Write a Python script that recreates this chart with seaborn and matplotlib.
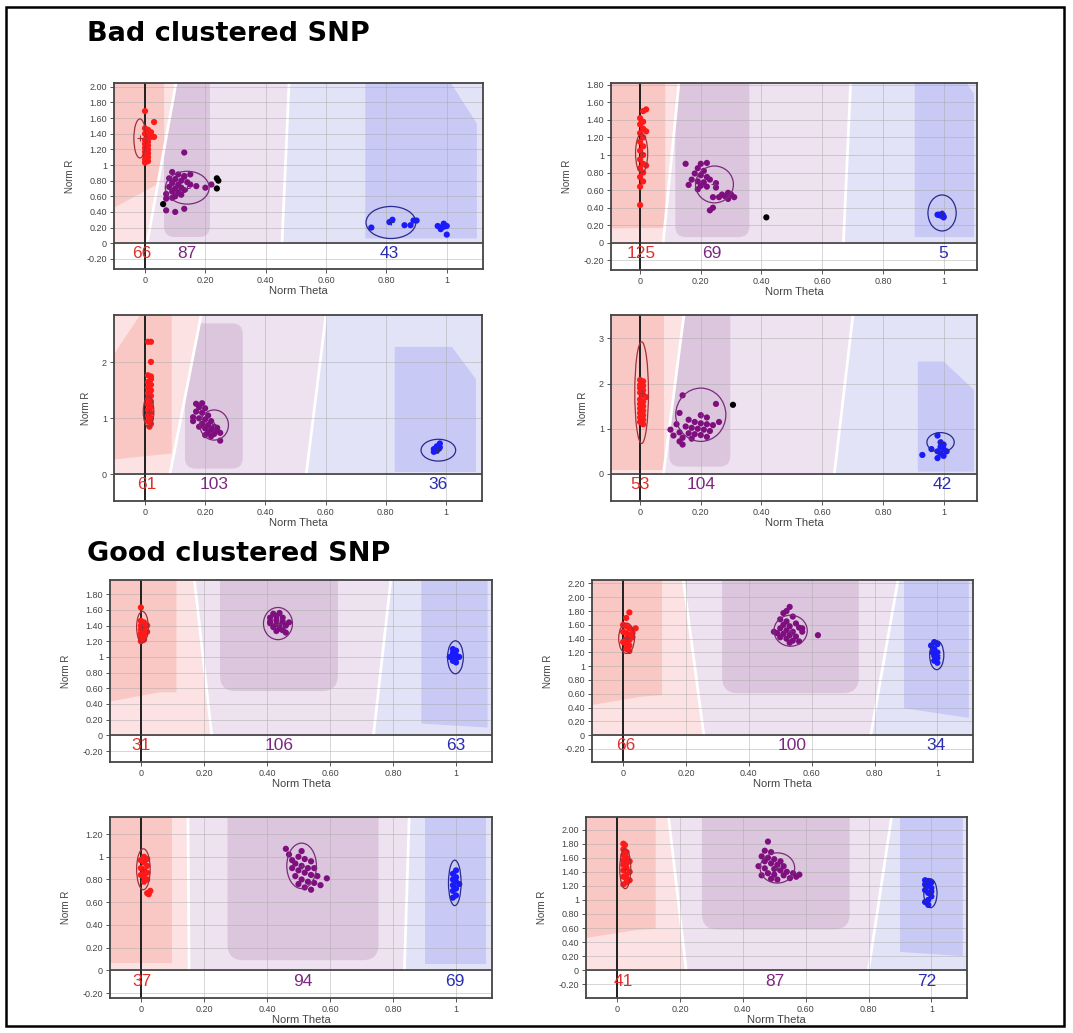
import numpy as np
import pandas as pd
import matplotlib
matplotlib.use("Agg")
import matplotlib.pyplot as plt
from matplotlib.patches import Ellipse, Polygon, FancyBboxPatch, Rectangle
import seaborn as sns

# ---- (Norm Theta, Norm R) per genotype call ----
# panel 1 - bad
p1_aa = [(0.0, 1.69), (0.03, 1.55), (0.0, 1.47), (0.01, 1.45), (0.02, 1.42), (0.0, 1.40), (0.01, 1.37),
         (0.02, 1.36), (0.03, 1.36), (0.0, 1.32), (0.01, 1.30), (0.0, 1.27), (0.01, 1.25), (0.0, 1.22),
         (0.01, 1.20), (0.0, 1.17), (0.01, 1.15), (0.0, 1.12), (0.01, 1.10), (0.0, 1.07), (0.01, 1.05), (0.0, 1.03)]
p1_ab = [(0.13, 1.16), (0.09, 0.91), (0.11, 0.88), (0.13, 0.86), (0.15, 0.88), (0.08, 0.83), (0.10, 0.82),
         (0.12, 0.80), (0.14, 0.78), (0.09, 0.77), (0.11, 0.75), (0.08, 0.72), (0.10, 0.70), (0.12, 0.71),
         (0.13, 0.68), (0.09, 0.66), (0.11, 0.65), (0.07, 0.63), (0.10, 0.60), (0.12, 0.62), (0.07, 0.57),
         (0.09, 0.58), (0.15, 0.75), (0.20, 0.71), (0.22, 0.75), (0.07, 0.42), (0.10, 0.40), (0.13, 0.44),
         (0.17, 0.73), (0.13, 0.85)]
p1_bb = [(0.75, 0.20), (0.82, 0.30), (0.81, 0.27), (0.86, 0.23), (0.88, 0.23), (0.89, 0.29), (0.90, 0.29),
         (0.97, 0.22), (0.98, 0.20), (0.99, 0.25), (1.0, 0.22), (0.98, 0.18), (0.99, 0.21), (1.0, 0.11)]
p1_nc = [(0.238, 0.83), (0.243, 0.80), (0.238, 0.70), (0.06, 0.50)]
p1_counts = [66, 87, 43]
p1_count_x = [-0.01, 0.14, 0.81]
p1_ell = [(-0.017, 1.34, 0.04, 0.50), (0.14, 0.71, 0.145, 0.42), (0.815, 0.265, 0.165, 0.41)]

# panel 2 - bad
p2_aa = [(0.0, 0.43), (0.0, 0.64), (0.01, 0.70), (0.0, 0.75), (0.01, 0.80), (0.0, 0.85), (0.01, 0.90),
         (0.0, 0.95), (0.01, 1.0), (0.0, 1.05), (0.01, 1.10), (0.0, 1.15), (0.01, 1.20), (0.0, 1.25),
         (0.01, 1.30), (0.0, 1.35), (0.01, 1.38), (0.0, 1.42), (0.02, 1.52), (0.01, 1.50), (0.02, 1.27), (0.02, 0.88)]
p2_ab = [(0.15, 0.90), (0.20, 0.90), (0.22, 0.91), (0.19, 0.85), (0.21, 0.82), (0.18, 0.79), (0.20, 0.77),
         (0.22, 0.75), (0.17, 0.72), (0.19, 0.70), (0.21, 0.69), (0.23, 0.72), (0.25, 0.68), (0.16, 0.66),
         (0.20, 0.65), (0.22, 0.64), (0.19, 0.61), (0.27, 0.55), (0.28, 0.53), (0.29, 0.57), (0.30, 0.55),
         (0.31, 0.52), (0.26, 0.52), (0.24, 0.52), (0.29, 0.50), (0.24, 0.40), (0.23, 0.37), (0.25, 0.63)]
p2_bb = [(0.98, 0.32), (0.99, 0.31), (1.0, 0.30), (0.995, 0.33), (1.0, 0.29), (0.985, 0.32)]
p2_nc = [(0.416, 0.29)]
p2_counts = [125, 69, 5]
p2_count_x = [0.005, 0.235, 1.0]
p2_ell = [(0.005, 1.02, 0.04, 0.45), (0.245, 0.665, 0.125, 0.42), (0.995, 0.34, 0.093, 0.41)]

# panel 3 - bad
p3_aa = [(0.01, 2.37), (0.02, 2.37), (0.02, 2.01), (0.01, 1.77), (0.02, 1.75), (0.02, 1.70), (0.01, 1.65),
         (0.02, 1.60), (0.01, 1.55), (0.02, 1.50), (0.01, 1.45), (0.02, 1.40), (0.01, 1.35), (0.02, 1.30),
         (0.01, 1.25), (0.02, 1.20), (0.01, 1.15), (0.02, 1.10), (0.01, 1.05), (0.02, 1.0), (0.01, 0.95),
         (0.02, 0.90), (0.015, 0.85)]
p3_ab = [(0.17, 1.26), (0.19, 1.27), (0.18, 1.20), (0.20, 1.18), (0.17, 1.12), (0.19, 1.10), (0.21, 1.05),
         (0.16, 1.02), (0.18, 1.0), (0.20, 0.98), (0.22, 0.95), (0.16, 0.95), (0.19, 0.90), (0.21, 0.88),
         (0.23, 0.85), (0.20, 0.82), (0.22, 0.80), (0.24, 0.78), (0.25, 0.74), (0.23, 0.72), (0.21, 0.75),
         (0.20, 0.70), (0.22, 0.68), (0.25, 0.60), (0.24, 0.83), (0.18, 0.85)]
p3_bb = [(0.96, 0.45), (0.97, 0.50), (0.98, 0.55), (0.97, 0.42), (0.98, 0.48), (0.96, 0.40), (0.975, 0.45)]
p3_nc = []
p3_counts = [61, 103, 36]
p3_count_x = [0.006, 0.23, 0.975]
p3_ell = [(0.012, 1.12, 0.035, 0.55), (0.23, 0.88, 0.095, 0.54), (0.975, 0.43, 0.115, 0.39)]

# panel 4 - bad
p4_aa = [(0.0, 2.08), (0.01, 2.05), (0.0, 1.97), (0.01, 1.95), (0.0, 1.90), (0.01, 1.85), (0.0, 1.80),
         (0.01, 1.75), (0.02, 1.70), (0.0, 1.65), (0.01, 1.60), (0.0, 1.55), (0.01, 1.50), (0.0, 1.45),
         (0.01, 1.40), (0.0, 1.35), (0.01, 1.30), (0.0, 1.25), (0.01, 1.20), (0.0, 1.15), (0.01, 1.10)]
p4_ab = [(0.14, 1.74), (0.25, 1.55), (0.13, 1.35), (0.20, 1.30), (0.22, 1.25), (0.16, 1.20), (0.18, 1.15),
         (0.20, 1.12), (0.22, 1.10), (0.24, 1.08), (0.12, 1.10), (0.15, 1.05), (0.17, 1.02), (0.19, 1.0),
         (0.21, 0.98), (0.23, 0.95), (0.10, 0.98), (0.13, 0.92), (0.16, 0.90), (0.18, 0.88), (0.20, 0.86),
         (0.11, 0.85), (0.14, 0.80), (0.17, 0.78), (0.22, 0.82), (0.13, 0.72), (0.14, 0.65), (0.26, 1.15)]
p4_bb = [(0.93, 0.42), (0.96, 0.55), (0.98, 0.85), (0.99, 0.70), (1.0, 0.65), (0.99, 0.60), (1.0, 0.55),
         (0.98, 0.50), (0.99, 0.45), (1.0, 0.40), (0.98, 0.35), (1.01, 0.50)]
p4_nc = [(0.306, 1.53)]
p4_counts = [53, 104, 42]
p4_count_x = [0.0, 0.20, 0.995]
p4_ell = [(0.005, 1.80, 0.045, 2.25), (0.20, 1.31, 0.165, 1.18), (0.99, 0.70, 0.09, 0.43)]

# panel 5 - good
p5_aa = [(0.0, 1.63), (0.0, 1.46), (0.01, 1.44), (0.0, 1.40), (0.01, 1.38), (0.0, 1.35), (0.01, 1.33),
         (0.02, 1.32), (0.0, 1.30), (0.01, 1.28), (0.0, 1.25), (0.01, 1.22), (0.0, 1.20), (0.01, 1.36), (0.02, 1.40)]
p5_ab = [(0.42, 1.55), (0.44, 1.56), (0.43, 1.52), (0.45, 1.50), (0.41, 1.50), (0.43, 1.47), (0.45, 1.45),
         (0.47, 1.44), (0.41, 1.43), (0.43, 1.42), (0.44, 1.40), (0.46, 1.40), (0.42, 1.38), (0.44, 1.36),
         (0.45, 1.34), (0.43, 1.33), (0.46, 1.31), (0.41, 1.45)]
p5_bb = [(0.99, 1.10), (1.0, 1.08), (0.99, 1.05), (1.0, 1.02), (0.99, 1.0), (1.0, 0.98), (0.99, 0.95),
         (1.0, 0.93), (1.01, 1.0), (0.98, 1.0)]
p5_nc = []
p5_counts = [31, 106, 63]
p5_count_x = [0.0, 0.44, 1.0]
p5_ell = [(0.005, 1.38, 0.037, 0.40), (0.435, 1.425, 0.092, 0.41), (0.998, 0.995, 0.05, 0.42)]

# panel 6 - good
p6_aa = [(0.02, 1.78), (0.01, 1.70), (0.0, 1.60), (0.01, 1.58), (0.02, 1.55), (0.04, 1.55), (0.03, 1.52),
         (0.0, 1.50), (0.01, 1.48), (0.02, 1.45), (0.03, 1.42), (0.01, 1.40), (0.02, 1.38), (0.0, 1.35),
         (0.01, 1.32), (0.02, 1.30), (0.01, 1.25), (0.02, 1.22), (0.03, 1.48)]
p6_ab = [(0.53, 1.86), (0.52, 1.80), (0.51, 1.77), (0.54, 1.72), (0.50, 1.68), (0.52, 1.65), (0.55, 1.62),
         (0.51, 1.60), (0.53, 1.58), (0.56, 1.56), (0.50, 1.55), (0.52, 1.52), (0.54, 1.50), (0.57, 1.50),
         (0.48, 1.50), (0.51, 1.47), (0.53, 1.45), (0.55, 1.43), (0.50, 1.42), (0.52, 1.40), (0.54, 1.37),
         (0.56, 1.36), (0.53, 1.34), (0.62, 1.45), (0.49, 1.48), (0.57, 1.55)]
p6_bb = [(0.98, 1.30), (0.99, 1.35), (1.0, 1.32), (0.99, 1.25), (1.0, 1.20), (0.99, 1.15), (1.0, 1.12),
         (0.99, 1.08), (1.0, 1.05), (0.985, 1.20)]
p6_nc = []
p6_counts = [66, 100, 34]
p6_count_x = [0.007, 0.538, 0.995]
p6_ell = [(0.011, 1.405, 0.05, 0.44), (0.533, 1.515, 0.106, 0.45), (0.998, 1.16, 0.045, 0.42)]

# panel 7 - good
p7_aa = [(0.01, 1.0), (0.0, 0.97), (0.01, 0.95), (0.02, 0.92), (0.0, 0.90), (0.01, 0.88), (0.02, 0.86),
         (0.0, 0.84), (0.01, 0.82), (0.02, 0.80), (0.01, 0.78), (0.03, 0.70), (0.02, 0.68), (0.025, 0.67),
         (0.01, 0.85), (0.02, 0.98)]
p7_ab = [(0.46, 1.07), (0.51, 1.05), (0.47, 1.02), (0.50, 1.0), (0.52, 0.98), (0.48, 0.97), (0.54, 0.96),
         (0.49, 0.94), (0.51, 0.92), (0.53, 0.90), (0.55, 0.90), (0.48, 0.90), (0.50, 0.88), (0.52, 0.86),
         (0.54, 0.84), (0.56, 0.83), (0.49, 0.83), (0.51, 0.80), (0.53, 0.78), (0.55, 0.77), (0.59, 0.81),
         (0.57, 0.75), (0.52, 0.73), (0.54, 0.71), (0.50, 0.76)]
p7_bb = [(1.0, 0.88), (0.99, 0.85), (1.0, 0.82), (0.99, 0.80), (1.0, 0.78), (0.99, 0.75), (1.0, 0.72),
         (0.99, 0.70), (1.0, 0.66), (0.99, 0.64), (1.01, 0.76)]
p7_nc = []
p7_counts = [37, 94, 69]
p7_count_x = [0.005, 0.513, 0.995]
p7_ell = [(0.008, 0.89, 0.043, 0.36), (0.51, 0.92, 0.094, 0.40), (0.996, 0.77, 0.04, 0.40)]

# panel 8 - good
p8_aa = [(0.02, 1.80), (0.025, 1.78), (0.02, 1.72), (0.03, 1.68), (0.02, 1.64), (0.03, 1.60), (0.02, 1.56),
         (0.04, 1.55), (0.03, 1.52), (0.02, 1.50), (0.03, 1.46), (0.02, 1.42), (0.04, 1.40), (0.03, 1.36),
         (0.02, 1.33), (0.03, 1.30), (0.04, 1.28), (0.03, 1.25), (0.02, 1.22)]
p8_ab = [(0.48, 1.83), (0.47, 1.70), (0.49, 1.68), (0.46, 1.62), (0.48, 1.60), (0.50, 1.58), (0.52, 1.55),
         (0.47, 1.55), (0.49, 1.52), (0.51, 1.50), (0.53, 1.48), (0.45, 1.48), (0.47, 1.45), (0.50, 1.44),
         (0.52, 1.42), (0.54, 1.40), (0.56, 1.38), (0.48, 1.38), (0.50, 1.36), (0.53, 1.35), (0.57, 1.33),
         (0.58, 1.36), (0.49, 1.30), (0.51, 1.29), (0.55, 1.31), (0.46, 1.35)]
p8_bb = [(0.98, 1.28), (0.99, 1.27), (1.0, 1.25), (0.98, 1.22), (0.99, 1.20), (1.0, 1.17), (0.98, 1.14),
         (0.99, 1.10), (1.0, 1.05), (0.99, 1.0), (0.98, 0.97), (0.99, 0.93), (1.0, 1.12)]
p8_nc = []
p8_counts = [41, 87, 72]
p8_count_x = [0.019, 0.503, 0.986]
p8_ell = [(0.026, 1.445, 0.035, 0.57), (0.51, 1.455, 0.11, 0.43), (0.997, 1.095, 0.042, 0.41)]

# ---- call regions: AA/AB and AB/BB boundaries (theta at top, theta at R=0), shaded boxes ----
p1_zone = dict(b1=(0.126, 0.007), b2=(0.483, 0.454),
               aa=[(-0.2, 0.25), (0.063, 0.80), (0.063, 9), (-0.2, 9)], ab=(0.063, 0.215, 0.08, 9),
               bb=[(0.73, 0.06), (1.10, 0.06), (1.10, 1.53), (1.005, 2.10), (0.73, 2.10)])
p2_zone = dict(b1=(0.142, 0.076), b2=(0.70, 0.67),
               aa=[(-0.2, 0.16), (0.083, 0.17), (0.083, 9), (-0.2, 9)], ab=(0.116, 0.36, 0.065, 9),
               bb=[(0.905, 0.065), (1.10, 0.065), (1.10, 1.70), (1.07, 1.85), (0.905, 1.85)])
p3_zone = dict(b1=(0.205, 0.083), b2=(0.613, 0.536),
               aa=[(-0.2, 0.21), (0.089, 0.37), (0.089, 3.5), (-0.016, 3.5), (-0.016, 2.85), (-0.2, 1.36)],
               ab=(0.133, 0.325, 0.10, 2.70),
               bb=[(0.83, 0.04), (1.10, 0.04), (1.10, 1.70), (1.02, 2.28), (0.83, 2.28)])
p4_zone = dict(b1=(0.154, 0.077), b2=(0.71, 0.64),
               aa=[(-0.2, 0.09), (0.079, 0.09), (0.079, 9), (-0.2, 9)], ab=(0.096, 0.297, 0.16, 9),
               bb=[(0.915, 0.05), (1.10, 0.05), (1.10, 1.86), (1.0, 2.49), (0.915, 2.49)])
p5_zone = dict(b1=(0.156, 0.225), b2=(0.807, 0.738),
               aa=[(-0.2, 0.355), (0.06, 0.55), (0.113, 0.55), (0.113, 9), (-0.2, 9)], ab=(0.251, 0.625, 0.565, 9),
               bb=[(0.89, 0.15), (1.10, 0.10), (1.10, 9), (0.89, 9)])
p6_zone = dict(b1=(0.177, 0.257), b2=(0.894, 0.788),
               aa=[(-0.2, 0.36), (0.06, 0.56), (0.124, 0.58), (0.124, 9), (-0.2, 9)], ab=(0.315, 0.75, 0.61, 9),
               bb=[(0.894, 0.39), (1.10, 0.25), (1.10, 9), (0.894, 9)])
p7_zone = dict(b1=(0.148, 0.153), b2=(0.857, 0.836),
               aa=[(-0.2, 0.065), (0.10, 0.065), (0.10, 9), (-0.2, 9)], ab=(0.275, 0.754, 0.09, 9),
               bb=[(0.90, 0.06), (1.095, 0.06), (1.095, 9), (0.90, 9)])
p8_zone = dict(b1=(0.151, 0.22), b2=(0.89, 0.80),
               aa=[(-0.2, 0.39), (0.06, 0.57), (0.123, 0.59), (0.123, 9), (-0.2, 9)], ab=(0.27, 0.74, 0.58, 9),
               bb=[(0.90, 0.26), (1.10, 0.20), (1.10, 9), (0.90, 9)])

# axis ranges and tick steps
xlims = [(-0.103, 1.12), (-0.096, 1.11), (-0.103, 1.12), (-0.096, 1.11),
         (-0.098, 1.114), (-0.099, 1.113), (-0.098, 1.114), (-0.099, 1.113)]
ylims = [(-0.33, 2.05), (-0.31, 1.82), (-0.48, 2.85), (-0.60, 3.52),
         (-0.34, 1.98), (-0.39, 2.25), (-0.243, 1.35), (-0.395, 2.18)]
ytick_steps = [0.2, 0.2, 1.0, 1.0, 0.2, 0.2, 0.2, 0.2]

panels = [
    (p1_aa, p1_ab, p1_bb, p1_nc, p1_counts, p1_count_x, p1_ell, p1_zone),
    (p2_aa, p2_ab, p2_bb, p2_nc, p2_counts, p2_count_x, p2_ell, p2_zone),
    (p3_aa, p3_ab, p3_bb, p3_nc, p3_counts, p3_count_x, p3_ell, p3_zone),
    (p4_aa, p4_ab, p4_bb, p4_nc, p4_counts, p4_count_x, p4_ell, p4_zone),
    (p5_aa, p5_ab, p5_bb, p5_nc, p5_counts, p5_count_x, p5_ell, p5_zone),
    (p6_aa, p6_ab, p6_bb, p6_nc, p6_counts, p6_count_x, p6_ell, p6_zone),
    (p7_aa, p7_ab, p7_bb, p7_nc, p7_counts, p7_count_x, p7_ell, p7_zone),
    (p8_aa, p8_ab, p8_bb, p8_nc, p8_counts, p8_count_x, p8_ell, p8_zone),
]

# long table for seaborn
rows = []
for i, (aa, ab, bb, nc, *_rest) in enumerate(panels):
    for call, pts in (("AA", aa), ("AB", ab), ("BB", bb), ("NC", nc)):
        for t, r in pts:
            rows.append({"panel": i, "call": call, "theta": t, "R": r})
df = pd.DataFrame(rows)

# styling
sns.set_style("white")
plt.rcParams["font.family"] = ["Liberation Sans", "DejaVu Sans"]

CALL_COLORS = {"AA": "#ff1a1a", "AB": "#7f0f7f", "BB": "#1a1aff", "NC": "#000000"}
ELL_COLORS = ["#a0303a", "#7a2a7a", "#2a2a8c"]
COUNT_COLORS = ["#e0302c", "#7c2880", "#2a2eb0"]
ZONE_COLORS = ["#fce2e2", "#eee1f0", "#e3e3f8"]
BOX_COLORS = ["#fac8c4", "#dcc6de", "#c9c9f5"]

AX_POS = [
    (0.1062, 0.7396, 0.3439, 0.1801),
    (0.5694, 0.7386, 0.3411, 0.1810),
    (0.1062, 0.5150, 0.3430, 0.1801),
    (0.5694, 0.5150, 0.3411, 0.1801),
    (0.1025, 0.2623, 0.3560, 0.1762),
    (0.5517, 0.2623, 0.3550, 0.1762),
    (0.1025, 0.0339, 0.3560, 0.1752),
    (0.5461, 0.0339, 0.3550, 0.1752),
]

W, H = 1073, 1033
fig = plt.figure(figsize=(W / 100, H / 100), dpi=100)


def fmt(v, step):
    # GenomeStudio style: 0 and 1 bare, other values with two decimals
    if step >= 1 or abs(v) < 1e-9 or abs(v - 1) < 1e-9:
        return str(int(round(v)))
    return f"{v:.2f}"


for i, (aa, ab, bb, nc, counts, count_x, ells, zone) in enumerate(panels):
    ax = fig.add_axes(AX_POS[i])
    x0, x1 = xlims[i]
    y0, y1 = ylims[i]
    top = y1 + 0.5
    ax.set_xlim(x0, x1)
    ax.set_ylim(y0, y1)

    b1t, b1b = zone["b1"]
    b2t, b2b = zone["b2"]
    zone_polys = [
        [(x0 - 1, 0), (b1b, 0), (b1t, top), (x0 - 1, top)],
        [(b1b, 0), (b2b, 0), (b2t, top), (b1t, top)],
        [(b2b, 0), (x1 + 1, 0), (x1 + 1, top), (b2t, top)],
    ]
    zpatches = []
    for poly, c in zip(zone_polys, ZONE_COLORS):
        p = Polygon(poly, closed=True, facecolor=c, edgecolor="none", zorder=0.3)
        ax.add_patch(p)
        zpatches.append(p)

    # shaded cluster boxes, clipped to their call region
    asp = ((y1 - y0) / (AX_POS[i][3] * H)) / ((x1 - x0) / (AX_POS[i][2] * W))
    pa = Polygon(zone["aa"], closed=True, facecolor=BOX_COLORS[0], edgecolor="none", zorder=0.6)
    ax.add_patch(pa)
    pa.set_clip_path(zpatches[0])
    l, r, b, t = zone["ab"]
    rad = 0.035 if i < 4 else 0.05
    pb = FancyBboxPatch((l, b), r - l, t - b, boxstyle=f"round,pad=0,rounding_size={rad}",
                        mutation_aspect=asp, facecolor=BOX_COLORS[1], edgecolor="none", zorder=0.6)
    ax.add_patch(pb)
    pb.set_clip_path(zpatches[1])
    pc = Polygon(zone["bb"], closed=True, facecolor=BOX_COLORS[2], edgecolor="none", zorder=0.6)
    ax.add_patch(pc)
    pc.set_clip_path(zpatches[2])

    # white boundaries between call regions
    ax.plot([b1b, b1t], [0, top], color="white", lw=2.0, zorder=1.0)
    ax.plot([b2b, b2t], [0, top], color="white", lw=2.0, zorder=1.0)

    # ticks & grid
    xt = [0, 0.2, 0.4, 0.6, 0.8, 1.0]
    step = ytick_steps[i]
    yt = np.round(np.arange(np.ceil(y0 / step) * step, y1 + 1e-9, step), 2)
    ax.set_xticks(xt)
    ax.set_xticklabels([fmt(v, 0.2) for v in xt])
    ax.set_yticks(yt)
    ax.set_yticklabels([fmt(v, step) for v in yt])
    ax.set_axisbelow("line")
    ax.grid(True, color="#a8a8a8", lw=0.6, alpha=0.55)
    ax.tick_params(axis="both", labelsize=6.5, labelcolor="#444444", length=3, width=0.7,
                   color="#555555", pad=2, left=True, bottom=True)

    ax.axvline(0, color="#202020", lw=1.4, zorder=4)
    ax.axhline(0, color="#303030", lw=1.1, zorder=4)

    # points
    sub = df[df["panel"] == i]
    sns.scatterplot(data=sub, x="theta", y="R", hue="call", palette=CALL_COLORS,
                    s=20, linewidth=0, legend=False, ax=ax, zorder=5)

    for (cx, cy, ew, eh), c in zip(ells, ELL_COLORS):
        ax.add_patch(Ellipse((cx, cy), ew, eh, fill=False, edgecolor=c, lw=0.9, zorder=6))
        ax.plot(cx, cy, marker="+", ms=4, mew=0.8, color=c, zorder=6)

    for n, cx, c in zip(counts, count_x, COUNT_COLORS):
        ax.text(cx, y0 * 0.39, str(n), color=c, fontsize=12.5, ha="center", va="center", zorder=7)

    ax.set_xlabel("Norm Theta", fontsize=8, color="#444444", labelpad=1)
    ax.set_ylabel("Norm R", fontsize=7, color="#444444", labelpad=8)
    for s in ax.spines.values():
        s.set_color("#444444")
        s.set_linewidth(1.3)
        s.set_zorder(8)

# section titles and outer frame
fig.text(87 / W, 1 - 41 / H, "Bad clustered SNP", fontsize=19.5, fontweight="bold",
         family=["DejaVu Sans"], color="black", ha="left", va="baseline")
fig.text(87 / W, 1 - 561 / H, "Good clustered SNP", fontsize=19.5, fontweight="bold",
         family=["DejaVu Sans"], color="black", ha="left", va="baseline")
fig.add_artist(Rectangle((6 / W, 7 / H), 1058 / W, 1019 / H, transform=fig.transFigure,
                         fill=False, lw=1.8, edgecolor="black"))

fig.savefig("out.png", dpi=100)
